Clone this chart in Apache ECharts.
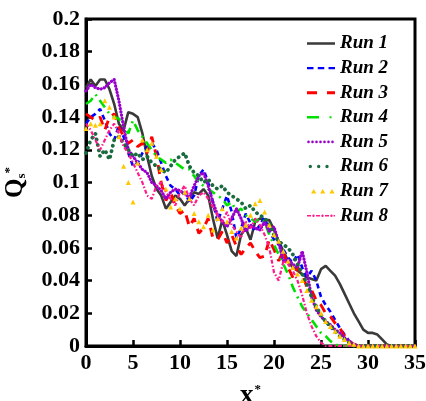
<!DOCTYPE html>
<html>
<head>
<meta charset="utf-8">
<script src="https://cdn.jsdelivr.net/npm/echarts@6/dist/echarts.min.js"></script>
<style>
html,body{margin:0;padding:0;background:#fff;}
#chart{width:426px;height:401px;}
</style>
</head>
<body>
<div id="chart"></div>
<script>
// ---- data ----
const xValues = [0,0.5,1,1.5,2,2.5,3,3.5,4,4.5,5,5.5,6,6.5,7,7.5,8,8.5,9,9.5,
  10,10.5,11,11.5,12,12.5,13,13.5,14,14.5,15,15.5,16,16.5,17,17.5,18,18.5,19,19.5,
  20,20.5,21,21.5,22,22.5,23,23.5,24,24.5,25,25.5,26,26.5,27,27.5,28,28.5,29,29.5,
  30,30.5,31,31.5,32,32.5,33,33.5,34,34.5,35];
const seriesNames = ['Run 1','Run 2','Run 3','Run 4','Run 5','Run 6','Run 7','Run 8'];
const run1 = [0.158,0.163,0.159,0.163,0.163,0.157,0.148,0.136,0.132,0.143,0.142,0.140,0.130,0.116,0.104,0.096,0.092,0.084,0.088,0.092,
  0.090,0.086,0.090,0.094,0.093,0.096,0.092,0.078,0.066,0.077,0.068,0.058,0.055,0.068,0.072,0.065,0.076,0.078,0.077,0.077,
  0.071,0.064,0.058,0.052,0.048,0.046,0.044,0.042,0.041,0.040,0.047,0.049,0.046,0.043,0.038,0.032,0.026,0.020,0.015,0.010,
  0.008,0.008,0.007,0.004,0.001,0,0,0,0,0,0];
const run2 = [0.136,0.140,0.142,0.145,0.138,0.130,0.126,0.135,0.128,0.118,0.110,0.112,0.118,0.122,0.124,0.120,0.112,0.104,0.098,0.096,
  0.092,0.094,0.088,0.092,0.104,0.108,0.100,0.088,0.076,0.084,0.092,0.082,0.066,0.072,0.081,0.075,0.070,0.074,0.079,0.070,
  0.065,0.062,0.059,0.054,0.051,0.056,0.048,0.042,0.046,0.040,0.030,0.025,0.021,0.016,0.011,0.007,0.003,0.001,0,0,
  0,0,0,0,0,0,0,0,0,0,0];
const run3 = [0.142,0.140,0.138,0.140,0.132,0.140,0.142,0.134,0.128,0.124,0.126,0.122,0.124,0.118,0.128,0.116,0.100,0.089,0.094,0.086,
  0.081,0.083,0.073,0.078,0.069,0.072,0.078,0.066,0.065,0.070,0.063,0.068,0.061,0.056,0.060,0.063,0.058,0.054,0.055,0.065,
  0.059,0.052,0.058,0.048,0.042,0.048,0.044,0.036,0.034,0.028,0.025,0.020,0.018,0.014,0.011,0.006,0.003,0.001,0,0,
  0,0,0,0,0,0,0,0,0,0,0];
const run4 = [0.148,0.150,0.154,0.150,0.146,0.142,0.140,0.139,0.134,0.130,0.138,0.132,0.128,0.124,0.120,0.116,0.114,0.112,0.114,0.112,
  0.110,0.108,0.108,0.104,0.100,0.098,0.096,0.094,0.092,0.090,0.086,0.088,0.082,0.084,0.080,0.078,0.076,0.078,0.076,0.068,
  0.062,0.056,0.050,0.044,0.036,0.030,0.024,0.020,0.016,0.012,0.008,0.006,0.003,0.001,0,0,0,0,0,0,
  0,0,0,0,0,0,0,0,0,0,0];
const run5 = [0.156,0.160,0.158,0.157,0.158,0.161,0.163,0.150,0.134,0.120,0.116,0.112,0.108,0.106,0.100,0.098,0.095,0.090,0.094,0.096,
  0.095,0.093,0.091,0.098,0.104,0.106,0.098,0.088,0.080,0.076,0.073,0.078,0.084,0.078,0.070,0.074,0.072,0.071,0.076,0.070,
  0.073,0.063,0.052,0.053,0.050,0.048,0.058,0.045,0.030,0.022,0.018,0.015,0.013,0.010,0.008,0.005,0.003,0.001,0,0,
  0,0,0,0,0,0,0,0,0,0,0];
const run6 = [0.118,0.126,0.130,0.116,0.120,0.114,0.126,0.128,0.124,0.120,0.116,0.118,0.114,0.116,0.112,0.110,0.108,0.106,0.110,0.114,
  0.116,0.118,0.110,0.106,0.104,0.100,0.102,0.098,0.096,0.098,0.094,0.092,0.090,0.088,0.084,0.086,0.082,0.080,0.078,0.075,
  0.068,0.064,0.062,0.060,0.056,0.050,0.044,0.038,0.030,0.024,0.019,0.015,0.012,0.009,0.006,0.004,0.002,0,0,0,
  0,0,0,0,0,0,0,0,0,0,0];
const run7 = [0.133,0.136,0.135,0.136,0.150,0.146,0.140,0.128,0.110,0.100,0.088,0.112,0.126,0.120,0.124,0.116,0.108,0.096,0.085,0.090,
  0.084,0.094,0.090,0.081,0.076,0.073,0.080,0.071,0.078,0.084,0.076,0.070,0.066,0.072,0.074,0.080,0.087,0.089,0.082,0.074,
  0.068,0.064,0.058,0.052,0.048,0.044,0.040,0.034,0.028,0.024,0.020,0.015,0.012,0.009,0.006,0.004,0.002,0.001,0,0,
  0,0,0,0,0,0,0,0,0,0,0];
const run8 = [0.136,0.132,0.126,0.120,0.126,0.132,0.136,0.130,0.122,0.118,0.112,0.106,0.100,0.092,0.090,0.098,0.100,0.094,0.090,0.086,
  0.094,0.098,0.090,0.086,0.092,0.094,0.090,0.085,0.080,0.076,0.082,0.074,0.070,0.066,0.076,0.072,0.078,0.074,0.068,0.060,
  0.045,0.040,0.052,0.050,0.046,0.040,0.031,0.020,0.012,0.006,0.002,0,0,0,0,0,0,0,0,0,
  0,0,0,0,0,0,0,0,0,0,0];
const runValues = [run1, run2, run3, run4, run5, run6, run7, run8];
const xTicks = {min: 0, max: 35, interval: 5};
const yTicks = {min: 0, max: 0.2, interval: 0.02};

// ---- styles ----
const colors = ['#3a3a3a','#0000ff','#ff0000','#00e000','#9a00cc','#1b6b40','#ffc800','#ff1a8c'];
const lineStyles = [
  {width: 2.6, type: 'solid'},
  {width: 2.6, type: [5, 4]},
  {width: 2.9, type: [9, 7]},
  {width: 2.6, type: [9, 5, 2, 5]},
  {width: 3.2, type: [0.1, 3.2], cap: 'round'},
  {width: 3.8, type: [0.1, 5.5], cap: 'round'},
  {width: 0, opacity: 0},
  {width: 2.2, type: [4, 2, 1.5, 2]}
];
const C = 'M0,0 L0.01,0 L0,0.01 Z M28,6 L27.99,6 L28,5.99 Z ';
function r(x0, x1, y0, y1){ return 'M'+x0+','+y0+' L'+x1+','+y0+' L'+x1+','+y1+' L'+x0+','+y1+' Z '; }
function c(cx, rad){ return 'M'+(cx-rad)+',3 A'+rad+','+rad+' 0 1,0 '+(cx+rad)+',3 A'+rad+','+rad+' 0 1,0 '+(cx-rad)+',3 Z '; }
function t(cx){ return 'M'+(cx-2.6)+',5.3 L'+cx+',0.8 L'+(cx+2.6)+',5.3 Z '; }
const icons = [
  C + r(0,28,1.8,4.2),
  C + r(0,6.5,1.8,4.2) + r(10.75,17.25,1.8,4.2) + r(21.5,28,1.8,4.2),
  C + r(0,10,1.5,4.5) + r(20,28,1.5,4.5),
  C + r(0,12,1.7,4.3) + r(22.5,24.5,2,4),
  C + c(1.5,1.3) + c(5.5,1.3) + c(9.5,1.3) + c(13.5,1.3) + c(17.5,1.3) + c(21.5,1.3) + c(25.5,1.3),
  C + c(3.3,1.7) + c(11.7,1.7) + c(20,1.7),
  C + t(6.7) + t(15.7) + t(25),
  C + r(0,4,2.2,3.8) + c(6.5,1.2) + r(9,13,2.2,3.8) + c(15.5,1.2) + r(18,22,2.2,3.8) + c(24.5,1.2) + r(26.5,28,2.2,3.8)
];

const serif = '"Liberation Serif","Times New Roman",serif';

const series = seriesNames.map(function(name, k){
  const s = {
    name: name,
    type: 'line',
    data: xValues.map(function(x, i){ return [x, runValues[k][i]]; }),
    symbol: 'none',
    showSymbol: false,
    silent: true,
    animation: false,
    color: colors[k],
    lineStyle: Object.assign({color: colors[k]}, lineStyles[k])
  };
  if (k === 6) {
    s.symbol = 'triangle';
    s.showSymbol = true;
    s.symbolSize = 5;
    s.itemStyle = {color: colors[k], borderWidth: 0};
  }
  return s;
});

const chart = echarts.init(document.getElementById('chart'), null, {renderer: 'canvas'});
chart.setOption({
  animation: false,
  backgroundColor: '#fff',
  grid: {left: 86, right: 11, top: 19, bottom: 55, outerBoundsMode: 'none', containLabel: false,
    show: true, borderColor: '#000', borderWidth: 3, backgroundColor: 'transparent'},
  legend: {
    orient: 'vertical',
    left: 307,
    top: 34,
    padding: 0,
    itemWidth: 28,
    itemHeight: 6,
    itemGap: 5.6,
    selectedMode: false,
    itemStyle: {borderWidth: 0},
    textStyle: {fontFamily: serif, fontSize: 19, fontWeight: 'bold', fontStyle: 'italic', color: '#000', lineHeight: 19},
    data: seriesNames.map(function(n, k){
      return {name: n, icon: 'path://' + icons[k], itemStyle: {color: colors[k], borderWidth: 0, opacity: 1}};
    })
  },
  xAxis: {
    type: 'value',
    min: xTicks.min, max: xTicks.max, interval: xTicks.interval,
    name: '{x|x}{a|*}',
    nameLocation: 'middle',
    nameGap: 37,
    nameTextStyle: {
      rich: {
        x: {fontFamily: serif, fontSize: 27, fontWeight: 'bold', color: '#000', verticalAlign: 'bottom'},
        a: {fontFamily: serif, fontSize: 13, fontWeight: 'bold', color: '#000', verticalAlign: 'top', padding: [0,0,0,1]}
      }
    },
    axisLine: {show: true, onZero: false, lineStyle: {color: '#000', width: 3}},
    axisTick: {show: true, inside: true, length: 6, lineStyle: {color: '#000', width: 2.5}},
    axisLabel: {fontFamily: serif, fontSize: 22, fontWeight: 'bold', color: '#000', margin: 6},
    splitLine: {show: false}
  },
  yAxis: {
    type: 'value',
    min: yTicks.min, max: yTicks.max, interval: yTicks.interval,
    name: '{q|Q}{s|s}{a|*}',
    nameLocation: 'middle',
    nameRotate: 90,
    nameGap: 58,
    nameTextStyle: {
      rich: {
        q: {fontFamily: serif, fontSize: 25, fontWeight: 'bold', color: '#000'},
        s: {fontFamily: serif, fontSize: 13, fontWeight: 'bold', color: '#000', verticalAlign: 'bottom'},
        a: {fontFamily: serif, fontSize: 13, fontWeight: 'bold', color: '#000', verticalAlign: 'top'}
      }
    },
    axisLine: {show: true, onZero: false, lineStyle: {color: '#000', width: 3}},
    axisTick: {show: true, inside: true, length: 6, lineStyle: {color: '#000', width: 2.5}},
    axisLabel: {fontFamily: serif, fontSize: 22, fontWeight: 'bold', color: '#000', margin: 6},
    splitLine: {show: false}
  },
  series: series
});
</script>
</body>
</html>
